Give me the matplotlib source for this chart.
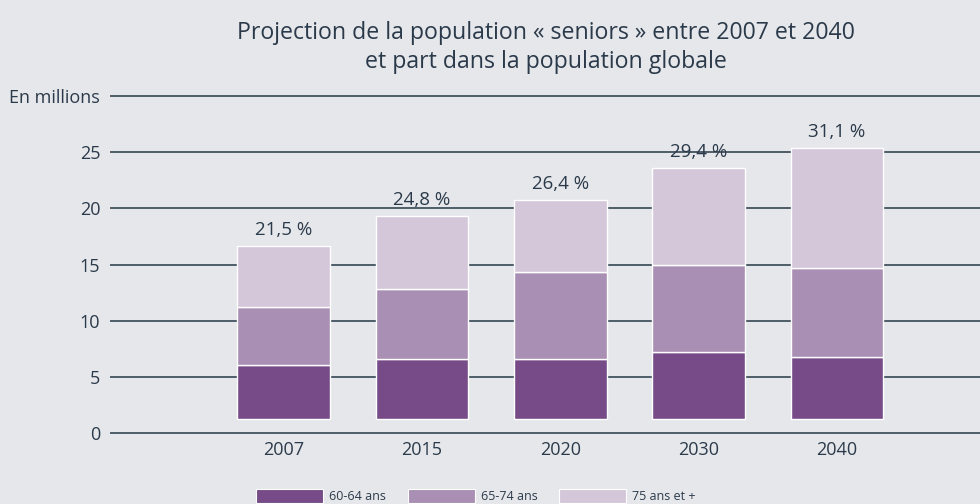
import numpy as np
import matplotlib.pyplot as plt
from matplotlib.patches import Patch

plt.rcParams['font.family'] = ['Open Sans', 'DejaVu Sans']

# =========================
# données (millions)
# =========================
annees = ["2007", "2015", "2020", "2030", "2040"]
age_60_64 = [4.77, 5.33, 5.33, 5.90, 5.45]
age_65_74 = [5.18, 6.16, 7.71, 7.79, 7.96]
age_75_plus = [5.38, 6.54, 6.43, 8.61, 10.65]
part_pct = ["21,5 %", "24,8 %", "26,4 %", "29,4 %", "31,1 %"]
series_noms = ["60-64 ans", "65-74 ans", "75 ans et +"]
yticks = [0, 5, 10, 15, 20, 25, 30]
ytick_labels = ["0", "5", "10", "15", "20", "25", "En millions"]

# style
fond = "#e6e7eb"
texte = "#2b3a4a"
couleurs = ["#774b87", "#a98fb4", "#d5c7da"]
base = 1.3  # les barres du graphique d'origine démarrent un peu au-dessus de 0

fig = plt.figure(figsize=(9.8, 5.04), dpi=100, facecolor=fond)
ax = fig.add_axes([0.1122, 0.1335, 0.8878, 0.6833])
ax.set_facecolor(fond)

x = np.arange(len(annees))
bas = np.full(len(annees), base)
for vals, c in zip([age_60_64, age_65_74, age_75_plus], couleurs):
    ax.bar(x, vals, bottom=bas, width=0.67, color=c, edgecolor="white", linewidth=1.0, zorder=3)
    bas = bas + np.array(vals)

for xi, top, lab in zip(x, bas, part_pct):
    ax.annotate(lab, (xi, top), xytext=(0, 5), textcoords="offset points",
                ha="center", va="bottom", fontsize=13.5, color=texte)

ax.set_xlim(-1.256, 5.035)
ax.set_ylim(-0.3, 30.3)
ax.set_yticks(yticks)
ax.set_yticklabels(ytick_labels)
ax.set_xticks(x)
ax.set_xticklabels(annees)
ax.tick_params(axis="both", length=0, labelsize=13, colors=texte)
ax.tick_params(axis="y", pad=7)
ax.tick_params(axis="x", pad=3)
ax.yaxis.grid(True, color="#253746", linewidth=1.1)
ax.set_axisbelow(True)
for s in ax.spines.values():
    s.set_visible(False)

fig.text(0.557, 0.935, "Projection de la population « seniors » entre 2007 et 2040",
         ha="center", va="center", fontsize=16.7, color=texte)
fig.text(0.557, 0.877, "et part dans la population globale",
         ha="center", va="center", fontsize=16.7, color=texte)

handles = [Patch(facecolor=c, edgecolor="white", linewidth=0.8) for c in couleurs]
fig.legend(handles, series_noms, loc="upper left", bbox_to_anchor=(0.261, 0.03),
           ncol=3, frameon=False, fontsize=9, handlelength=5.36, handleheight=1.4,
           handletextpad=0.48, columnspacing=1.76, labelcolor=texte, borderaxespad=0,
           borderpad=0)

fig.savefig("out.png", dpi=100, facecolor=fond)
